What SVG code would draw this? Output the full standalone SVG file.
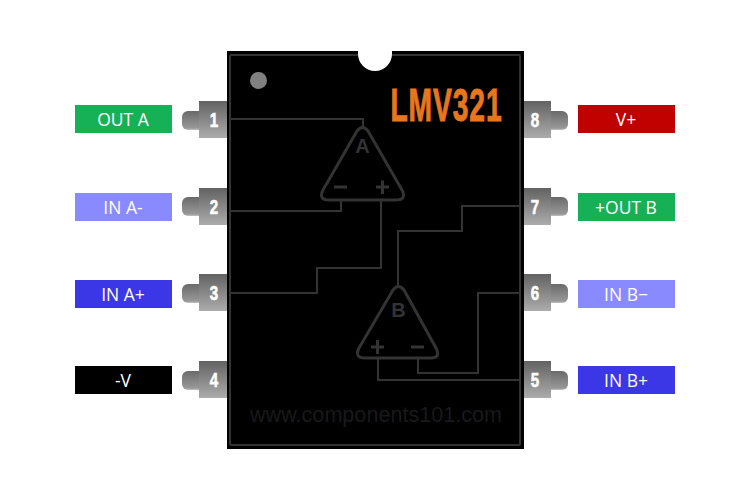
<svg xmlns="http://www.w3.org/2000/svg" width="750" height="500" viewBox="0 0 750 500">
<style>
.lab{font-family:"Open Sans","Liberation Sans",sans-serif;font-size:17.5px;fill:#fff;text-anchor:middle}
.num{font-family:"Liberation Sans",sans-serif;font-weight:bold;font-size:21px;fill:#fff;stroke:#fff;stroke-width:.6;text-anchor:middle}
.wire{fill:none;stroke:#333;stroke-width:2}
.amp{fill:#000;stroke:#333;stroke-width:3;stroke-linejoin:round}
.ampt{font-family:"Liberation Sans",sans-serif;font-weight:bold;font-size:20px;fill:#333;text-anchor:middle}
.sign{fill:none;stroke:#333;stroke-width:3}
</style>
<defs>
<linearGradient id="g" x1="0" y1="0" x2="0" y2="1"><stop offset="0" stop-color="#626262"/><stop offset="1" stop-color="#acacac"/></linearGradient>
<linearGradient id="s" x1="0" y1="0" x2="0" y2="1"><stop offset="0" stop-color="#6a6a6a"/><stop offset="0.9" stop-color="#989898"/><stop offset="1" stop-color="#c4c4c4"/></linearGradient>
<path id="pl" d="M199 0H188a6 6 0 0 0 -6 6V13a6 6 0 0 0 6 6H199Z" fill="url(#s)"/>
<path id="pr" d="M551 0H562a6 6 0 0 1 6 6V13a6 6 0 0 1 -6 6H551Z" fill="url(#s)"/>
</defs>
<rect width="750" height="500" fill="#fff"/>
<g id="pin1"><use href="#pl" y="111"/><rect x="199" y="101" width="28" height="37" fill="url(#g)"/><text class="num" transform="translate(214 127) scale(.72 1)">1</text></g>
<g id="pin2"><use href="#pl" y="197"/><rect x="199" y="188" width="28" height="37" fill="url(#g)"/><text class="num" transform="translate(214 214) scale(.72 1)">2</text></g>
<g id="pin3"><use href="#pl" y="284"/><rect x="199" y="274" width="28" height="37" fill="url(#g)"/><text class="num" transform="translate(214 300) scale(.72 1)">3</text></g>
<g id="pin4"><use href="#pl" y="371"/><rect x="199" y="361" width="28" height="37" fill="url(#g)"/><text class="num" transform="translate(214 387) scale(.72 1)">4</text></g>
<g id="pin8"><use href="#pr" y="111"/><rect x="524" y="101" width="27" height="37" fill="url(#g)"/><text class="num" transform="translate(535 127) scale(.72 1)">8</text></g>
<g id="pin7"><use href="#pr" y="197"/><rect x="524" y="188" width="27" height="37" fill="url(#g)"/><text class="num" transform="translate(535 214) scale(.72 1)">7</text></g>
<g id="pin6"><use href="#pr" y="284"/><rect x="524" y="274" width="27" height="37" fill="url(#g)"/><text class="num" transform="translate(535 300) scale(.72 1)">6</text></g>
<g id="pin5"><use href="#pr" y="371"/><rect x="524" y="361" width="27" height="37" fill="url(#g)"/><text class="num" transform="translate(535 387) scale(.72 1)">5</text></g>
<g id="body">
<rect x="227" y="51" width="297" height="398" fill="#000"/>
<rect x="230" y="55" width="290" height="390" rx="1" fill="none" stroke="#333" stroke-width="2"/>
<circle cx="375" cy="54" r="17" fill="#fff"/>
<rect x="358" y="40" width="34" height="14" fill="#fff"/>
<circle cx="258.500" cy="80.500" r="8.500" fill="#808080"/>
<text transform="translate(390.500 121) scale(.6 1)" font-family="Liberation Sans, sans-serif" font-weight="bold" font-size="47" letter-spacing="1.500" fill="#e8761c" stroke="#e8761c" stroke-width="1">LMV321</text>
<text x="250" y="422" font-family="Liberation Sans, sans-serif" font-size="22" fill="#191919" textLength="252" lengthAdjust="spacingAndGlyphs">www.components101.com</text>
</g>
<g id="connectors">
<path class="wire" d="M230 119H363V128"/>
<path class="wire" d="M230 211H341V201"/>
<path class="wire" d="M230 293H317V268H381V201"/>
<path class="wire" d="M520 206H462V231H398V287"/>
<path class="wire" d="M520 293H478V373H418V359"/>
<path class="wire" d="M520 380H378V359"/>
</g>
<g id="ampA">
<path class="amp" d="M357 131Q362.500 124 368 131L402 190Q407 200 396 200H329Q318 200 323 190Z"/>
<text class="ampt" x="362.500" y="153">A</text>
<path class="sign" d="M334 187H347M376 187H389M382.500 180.500V194"/>
</g>
<g id="ampB">
<path class="amp" d="M393 290Q398.500 283 404 290L436 348Q441 358 431 358H365Q354 358 359 348Z"/>
<text class="ampt" x="398.500" y="317">B</text>
<path class="sign" d="M371 347H384M377.500 340V354M411 347H424"/>
</g>
<g id="label1"><rect x="75" y="105" width="97" height="28" fill="#16b057"/><text class="lab" x="123" y="126">OUT A</text></g>
<g id="label2"><rect x="75" y="193" width="97" height="28" fill="#8a8aff"/><text class="lab" x="123" y="214">IN A-</text></g>
<g id="label3"><rect x="75" y="280" width="97" height="28" fill="#3b36e6"/><text class="lab" x="123" y="301">IN A+</text></g>
<g id="label4"><rect x="75" y="366" width="97" height="28" fill="#000"/><text class="lab" x="123" y="387">-V</text></g>
<g id="label8"><rect x="578" y="105" width="97" height="28" fill="#c10000"/><text class="lab" x="626" y="126">V+</text></g>
<g id="label7"><rect x="578" y="193" width="97" height="28" fill="#16b057"/><text class="lab" x="626" y="214">+OUT B</text></g>
<g id="label6"><rect x="578" y="280" width="97" height="28" fill="#8a8aff"/><text class="lab" x="626" y="301">IN B−</text></g>
<g id="label5"><rect x="578" y="366" width="97" height="28" fill="#3b36e6"/><text class="lab" x="626" y="387">IN B+</text></g>
</svg>
